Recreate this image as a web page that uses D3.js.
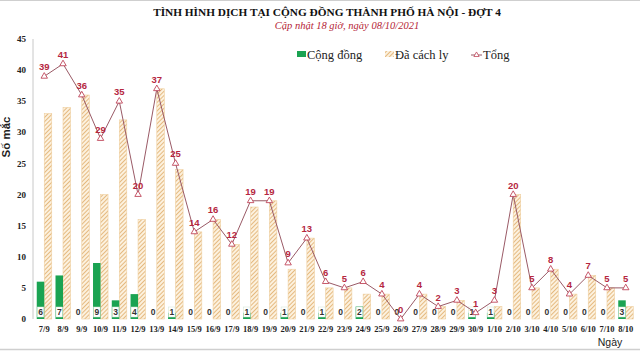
<!DOCTYPE html>
<html>
<head>
<meta charset="utf-8">
<script src="https://cdn.jsdelivr.net/npm/d3@7"></script>
<style>
  html, body { margin: 0; padding: 0; background: #ffffff; }
  svg { display: block; }
</style>
</head>
<body>
<div id="chart"></div>
<script>
  const dates = ["7/9", "8/9", "9/9", "10/9", "11/9", "12/9", "13/9", "14/9", "15/9", "16/9", "17/9", "18/9", "19/9", "20/9", "21/9", "22/9",
    "23/9", "24/9", "25/9", "26/9", "27/9", "28/9", "29/9", "30/9", "1/10", "2/10", "3/10", "4/10", "5/10", "6/10", "7/10", "8/10"];
  const community = [6, 7, 0, 9, 3, 4, 0, 1, 0, 0, 0, 1, 0, 1, 0, 1, 0, 2, 0, 0, 0, 0, 0, 1, 1, 0, 0, 0, 0, 0, 0, 3];
  const quarantined = [33, 34, 36, 20, 32, 16, 37, 24, 14, 16, 12, 18, 19, 8, 13, 5, 5, 4, 4, 0, 4, 2, 3, 0, 2, 20, 5, 8, 4, 7, 5, 2];
  const totals = [39, 41, 36, 29, 35, 20, 37, 25, 14, 16, 12, 19, 19, 9, 13, 6, 5, 6, 4, 0, 4, 2, 3, 1, 3, 20, 5, 8, 4, 7, 5, 5];
  const yTicks = [0, 5, 10, 15, 20, 25, 30, 35, 40, 45];

  const width = 640;
  const height = 351;
  const margin = { top: 39, right: 3, bottom: 32, left: 33 };
  const serif = "'Liberation Serif', 'Times New Roman', serif";
  const sans = "'Liberation Sans', Arial, sans-serif";
  const green = "#1aa352";
  const hatchColor = "#d99c4e";
  const lineColor = "#9a5a66";
  const markColor = "#c0465a";
  const labelRed = "#b5273f";

  const rows = dates.map((d, i) => ({ date: d, community: community[i], quarantined: quarantined[i], total: totals[i] }));

  const svg = d3.select("#chart").append("svg").attr("width", width).attr("height", height);

  const defs = svg.append("defs");
  const pattern = defs.append("pattern")
    .attr("id", "hatch")
    .attr("patternUnits", "userSpaceOnUse")
    .attr("width", 3)
    .attr("height", 3)
    .attr("patternTransform", "rotate(45)");
  pattern.append("rect").attr("width", 3).attr("height", 3).attr("fill", "#fcf1de");
  pattern.append("line").attr("x1", 0).attr("y1", 0).attr("x2", 0).attr("y2", 3)
    .attr("stroke", hatchColor).attr("stroke-width", 1.3);

  // frame lines top / bottom
  svg.append("line").attr("x1", 0).attr("x2", width).attr("y1", 0.5).attr("y2", 0.5).attr("stroke", "#cfcfcf");
  svg.append("line").attr("x1", 0).attr("x2", width).attr("y1", 349.5).attr("y2", 349.5).attr("stroke", "#cfcfcf").attr("stroke-width", 1.5);

  // titles
  svg.append("text").attr("x", 327).attr("y", 16).attr("text-anchor", "middle")
    .attr("font-family", serif).attr("font-weight", "bold").attr("font-size", 11.3).attr("fill", "#111")
    .text("TÌNH HÌNH DỊCH TẠI CỘNG ĐỒNG THÀNH PHỐ HÀ NỘI - ĐỢT 4");
  svg.append("text").attr("x", 347).attr("y", 28.5).attr("text-anchor", "middle")
    .attr("font-family", serif).attr("font-style", "italic").attr("font-size", 10.5).attr("fill", "#b52335")
    .text("Cập nhật 18 giờ, ngày 08/10/2021");

  const x = d3.scaleBand().domain(dates).range([margin.left, width - margin.right]).padding(0.2);
  const sub = d3.scaleBand().domain(["c", "q"]).range([0, x.bandwidth()]);
  const y = d3.scaleLinear().domain([0, 45]).range([height - margin.bottom, margin.top]);
  const cx = (d) => x(d.date) + x.bandwidth() / 2;

  // y axis
  svg.append("line").attr("x1", margin.left).attr("x2", margin.left)
    .attr("y1", y(45)).attr("y2", y(0)).attr("stroke", "#c8c8c8");
  svg.append("g")
    .selectAll("text")
    .data(yTicks)
    .join("text")
    .attr("x", 26)
    .attr("y", (d) => y(d))
    .attr("dy", "0.35em")
    .attr("text-anchor", "end")
    .attr("font-family", serif).attr("font-weight", "bold").attr("font-size", 9).attr("fill", "#222")
    .text((d) => d);
  svg.append("text")
    .attr("transform", "translate(10,137) rotate(-90)")
    .attr("text-anchor", "middle")
    .attr("font-family", sans).attr("font-weight", "bold").attr("font-size", 11.5).attr("fill", "#222")
    .text("Số mắc");

  // quarantined bars (hatched)
  svg.append("g")
    .selectAll("rect")
    .data(rows.filter((d) => d.quarantined > 0))
    .join("rect")
    .attr("x", (d) => x(d.date) + sub("q"))
    .attr("y", (d) => y(d.quarantined))
    .attr("width", sub.bandwidth())
    .attr("height", (d) => y(0) - y(d.quarantined))
    .attr("fill", "url(#hatch)")
    .attr("stroke", "#efcf9f")
    .attr("stroke-width", 0.6);

  // community bars
  svg.append("g")
    .selectAll("rect")
    .data(rows.filter((d) => d.community > 0))
    .join("rect")
    .attr("x", (d) => x(d.date) + sub("c"))
    .attr("y", (d) => y(d.community))
    .attr("width", sub.bandwidth())
    .attr("height", (d) => y(0) - y(d.community))
    .attr("fill", green);

  // community labels in white boxes
  const cLabels = svg.append("g")
    .selectAll("g")
    .data(rows)
    .join("g")
    .attr("transform", (d) => `translate(${x(d.date) + sub("c")},${y(0)})`);
  cLabels.filter((d) => d.community > 0)
    .append("rect")
    .attr("x", 0.5).attr("y", -12).attr("width", sub.bandwidth() - 1).attr("height", 10)
    .attr("fill", "#ffffff").attr("stroke", "#cfe3d4").attr("stroke-width", 0.5);
  cLabels.append("text")
    .attr("x", sub.bandwidth() / 2)
    .attr("y", -4)
    .attr("text-anchor", "middle")
    .attr("font-family", sans).attr("font-weight", "bold").attr("font-size", 8.5).attr("fill", "#333")
    .text((d) => d.community);

  // total line
  const line = d3.line().x(cx).y((d) => y(d.total));
  svg.append("path").datum(rows).attr("d", line)
    .attr("fill", "none").attr("stroke", lineColor).attr("stroke-width", 1);
  const tri = d3.symbol().type(d3.symbolTriangle).size(18);
  svg.append("g")
    .selectAll("path")
    .data(rows)
    .join("path")
    .attr("transform", (d) => `translate(${cx(d)},${y(d.total)})`)
    .attr("d", tri)
    .attr("fill", "#ffffff")
    .attr("stroke", markColor)
    .attr("stroke-width", 0.9);
  svg.append("g")
    .selectAll("text")
    .data(rows)
    .join("text")
    .attr("x", cx)
    .attr("y", (d) => y(d.total) - 6)
    .attr("text-anchor", "middle")
    .attr("font-family", sans).attr("font-weight", "bold").attr("font-size", 9.5).attr("fill", labelRed)
    .text((d) => d.total);

  // x tick labels
  svg.append("g")
    .selectAll("text")
    .data(dates)
    .join("text")
    .attr("x", (d) => x(d) + x.bandwidth() / 2)
    .attr("y", 332)
    .attr("text-anchor", "middle")
    .attr("font-family", serif).attr("font-weight", "bold").attr("font-size", 8.5).attr("fill", "#222")
    .text((d) => d);
  svg.append("text").attr("x", 610).attr("y", 346).attr("text-anchor", "middle")
    .attr("font-family", sans).attr("font-size", 10.5).attr("fill", "#222").text("Ngày");

  // legend
  const legend = svg.append("g").attr("font-family", serif).attr("font-size", 12.5).attr("fill", "#222");
  legend.append("rect").attr("x", 297).attr("y", 51).attr("width", 9).attr("height", 6).attr("fill", green);
  legend.append("text").attr("x", 307).attr("y", 59).text("Cộng đồng");
  legend.append("rect").attr("x", 385).attr("y", 51).attr("width", 9).attr("height", 6).attr("fill", "url(#hatch)");
  legend.append("text").attr("x", 395).attr("y", 59).text("Đã cách ly");
  legend.append("line").attr("x1", 471).attr("x2", 482).attr("y1", 55).attr("y2", 55).attr("stroke", lineColor);
  legend.append("path").attr("transform", "translate(476.5,55)").attr("d", d3.symbol().type(d3.symbolTriangle).size(12))
    .attr("fill", "#fff").attr("stroke", markColor).attr("stroke-width", 0.8);
  legend.append("text").attr("x", 483).attr("y", 59).text("Tổng");
</script>
</body>
</html>
